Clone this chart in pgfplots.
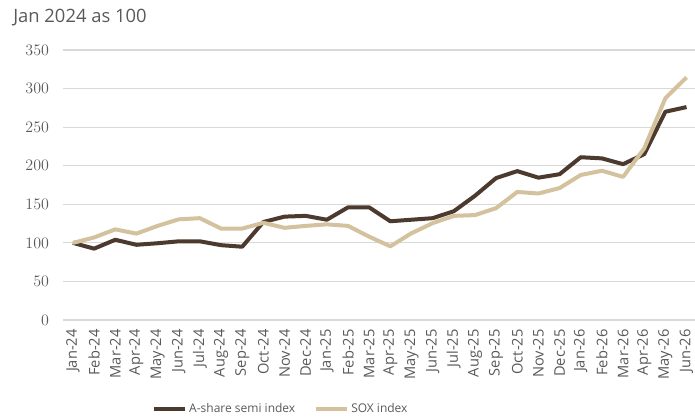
\documentclass[border=0pt]{standalone}
\usepackage{fontspec}
\setmainfont{Open Sans}
\usepackage{pgfplots}
\pgfplotsset{compat=1.18}
\definecolor{darkb}{HTML}{4B3A2D}
\definecolor{tanc}{HTML}{D4C19E}
\definecolor{txt}{HTML}{595959}
\definecolor{gridc}{HTML}{D9D9D9}
\begin{document}
\begin{tikzpicture}
\path[use as bounding box] (-47.25pt,-73.5pt) rectangle (474pt,240pt);
\begin{axis}[
 scale only axis, width=474pt, height=202.5pt,
 xmin=-0.47, xmax=29.4, ymin=0, ymax=350,
 ytick={0,50,...,350},
 xtick={0,...,29},
 xticklabels={Jan-24,Feb-24,Mar-24,Apr-24,May-24,Jun-24,Jul-24,Aug-24,Sep-24,Oct-24,Nov-24,Dec-24,Jan-25,Feb-25,Mar-25,Apr-25,May-25,Jun-25,Jul-25,Aug-25,Sep-25,Oct-25,Nov-25,Dec-25,Jan-26,Feb-26,Mar-26,Apr-26,May-26,Jun-26},
 axis line style={draw=none},
 major tick length=0pt,
 ymajorgrids, grid style={gridc, line width=0.8pt},
 tick label style={text=txt},
 yticklabel style={font=\fontsize{12.4}{14}\selectfont, xshift=-7pt},
 xticklabel style={font=\fontsize{11}{13}\selectfont, yshift=-3.5pt, rotate=90, anchor=east},
 title={Jan 2024 as 100},
 title style={at={(axis description cs:0,1)}, anchor=base west, xshift=-37.5pt, yshift=14.5pt, font=\fontsize{13.8}{16}\selectfont, text=txt, inner sep=0pt},
 legend style={at={(axis description cs:0.345,0)}, anchor=south, yshift=-73pt, draw=none, fill=none, legend columns=2, font=\fontsize{9}{11}\selectfont, text=txt, inner sep=0pt, /tikz/every even column/.append style={column sep=12pt}},
 legend image code/.code={\draw[#1, line width=3pt] (0pt,0pt) -- (23pt,0pt);},
 every axis plot/.append style={line width=3pt, line join=round, mark=none},
]
\addplot[darkb] coordinates {(0,100)(1,92.5)(2,104)(3,97.5)(4,99.5)(5,102)(6,102)(7,97)(8,95)(9,127)(10,134)(11,135)(12,130)(13,146)(14,146)(15,128)(16,130)(17,132)(18,141)(19,161)(20,184)(21,193)(22,184.5)(23,189)(24,211)(25,209.5)(26,202)(27,215)(28,270)(29,276)};
\addlegendentry{A-share semi index}
\addplot[tanc] coordinates {(0,100)(1,107)(2,117.5)(3,112)(4,122)(5,130.5)(6,132)(7,118.5)(8,118.5)(9,126)(10,119.5)(11,122)(12,124)(13,122)(14,108)(15,95.5)(16,112.5)(17,125.5)(18,135)(19,136)(20,145)(21,166)(22,164)(23,171)(24,188)(25,193.5)(26,185.5)(27,222.5)(28,287.5)(29,314.5)};
\addlegendentry{SOX index}
\end{axis}
\end{tikzpicture}
\end{document}
